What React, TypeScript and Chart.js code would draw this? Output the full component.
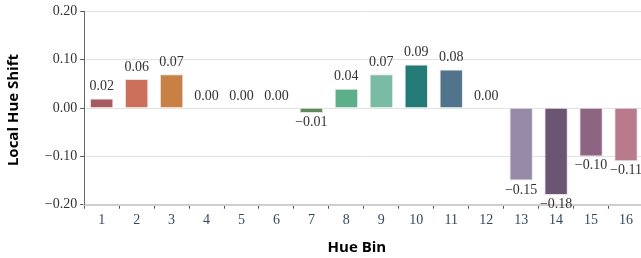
import React, { useEffect, useRef } from "react";
import { Chart, registerables } from "chart.js";

Chart.register(...registerables);

const categories = ["1", "2", "3", "4", "5", "6", "7", "8", "9", "10", "11", "12", "13", "14", "15", "16"];
const values = [0.02, 0.06, 0.07, 0.0, 0.0, 0.0, -0.01, 0.04, 0.07, 0.09, 0.08, 0.0, -0.15, -0.18, -0.10, -0.11];
const barColors = [
  "#a65b61", "#cc705b", "#c98044", "#b0a050", "#9aa050", "#80a050",
  "#5f8a5a", "#5dae8a", "#7abba4", "#247a77", "#51738c", "#6a6a9a",
  "#978aa6", "#6c5473", "#8d6582", "#b97a8c",
];
const yTicks = [0.2, 0.1, 0.0, -0.1, -0.2];
const yTitle = "Local Hue Shift";
const xTitle = "Hue Bin";

const fmt = (v: number) => {
  const s = Math.abs(v).toFixed(2);
  return v < -1e-9 ? "\u2212" + s : s;
};

const SERIF = "'Liberation Serif', 'DejaVu Serif', serif";
const SANS = "'Open Sans', 'Lato', sans-serif";

const labelPlugin = {
  id: "barLabels",
  afterDatasetsDraw(chart: any) {
    const ctx = chart.ctx;
    const meta = chart.getDatasetMeta(0);
    ctx.save();
    ctx.font = `14px ${SERIF}`;
    ctx.fillStyle = "#333333";
    ctx.textAlign = "center";
    ctx.textBaseline = "alphabetic";
    meta.data.forEach((el: any, i: number) => {
      const v = values[i];
      const y = v < 0 ? el.y + 13 : el.y - 8.5;
      ctx.fillText(fmt(v), el.x, y);
    });
    ctx.restore();
  },
};

const titlePlugin = {
  id: "axisTitles",
  afterDraw(chart: any) {
    const ctx = chart.ctx;
    const area = chart.chartArea;
    ctx.save();
    ctx.font = `bold 15px ${SANS}`;
    ctx.fillStyle = "#000000";
    ctx.textAlign = "center";
    ctx.textBaseline = "middle";
    ctx.fillText(xTitle, (area.left + area.right) / 2 - 7, 248);
    ctx.translate(14, (area.top + area.bottom) / 2 + 2);
    ctx.rotate(-Math.PI / 2);
    ctx.fillText(yTitle, 0, 0);
    ctx.restore();
  },
};

export default function App() {
  const ref = useRef<HTMLCanvasElement | null>(null);
  useEffect(() => {
    if (!ref.current) return;
    const chart = new Chart(ref.current, {
      type: "bar",
      data: {
        labels: categories,
        datasets: [
          {
            data: values,
            backgroundColor: barColors,
            borderColor: "rgba(225,225,225,0.9)",
            borderWidth: 1,
            categoryPercentage: 1,
            barPercentage: 0.67,
          },
        ],
      },
      options: {
        animation: false,
        responsive: false,
        layout: { padding: { top: 10, right: 1.5, left: 0, bottom: 0 } },
        plugins: { legend: { display: false }, tooltip: { enabled: false } },
        scales: {
          x: {
            grid: {
              display: true,
              drawOnChartArea: false,
              drawTicks: true,
              tickLength: 4,
              tickColor: "#555555",
              offset: true,
            },
            border: { display: true, color: "#cfcfcf", width: 2 },
            ticks: {
              color: "#34495e",
              font: { family: SERIF, size: 14 },
              padding: 3,
              maxRotation: 0,
              autoSkip: false,
            },
            afterFit: (scale: any) => {
              scale.height = 53.3;
            },
          },
          y: {
            min: -0.2,
            max: 0.2,
            afterBuildTicks: (scale: any) => {
              scale.ticks = yTicks.map((v) => ({ value: v }));
            },
            grid: {
              color: "#e2e2e2",
              lineWidth: 1,
              tickLength: 4,
              tickColor: "#555555",
            },
            border: { display: true, color: "#666666", width: 1 },
            ticks: {
              color: "#333333",
              font: { family: SERIF, size: 14 },
              padding: 3,
              callback: (v: any) => fmt(Number(v)),
            },
            afterFit: (scale: any) => {
              scale.width = 84.2;
            },
          },
        },
      },
      plugins: [labelPlugin, titlePlugin],
    });
    return () => chart.destroy();
  }, []);
  return (
    <div style={{ position: "absolute", left: 0, top: 0, width: 641, height: 258, overflow: "hidden", background: "#ffffff" }}>
      <canvas ref={ref} width={645} height={258} style={{ display: "block" }} />
    </div>
  );
}
